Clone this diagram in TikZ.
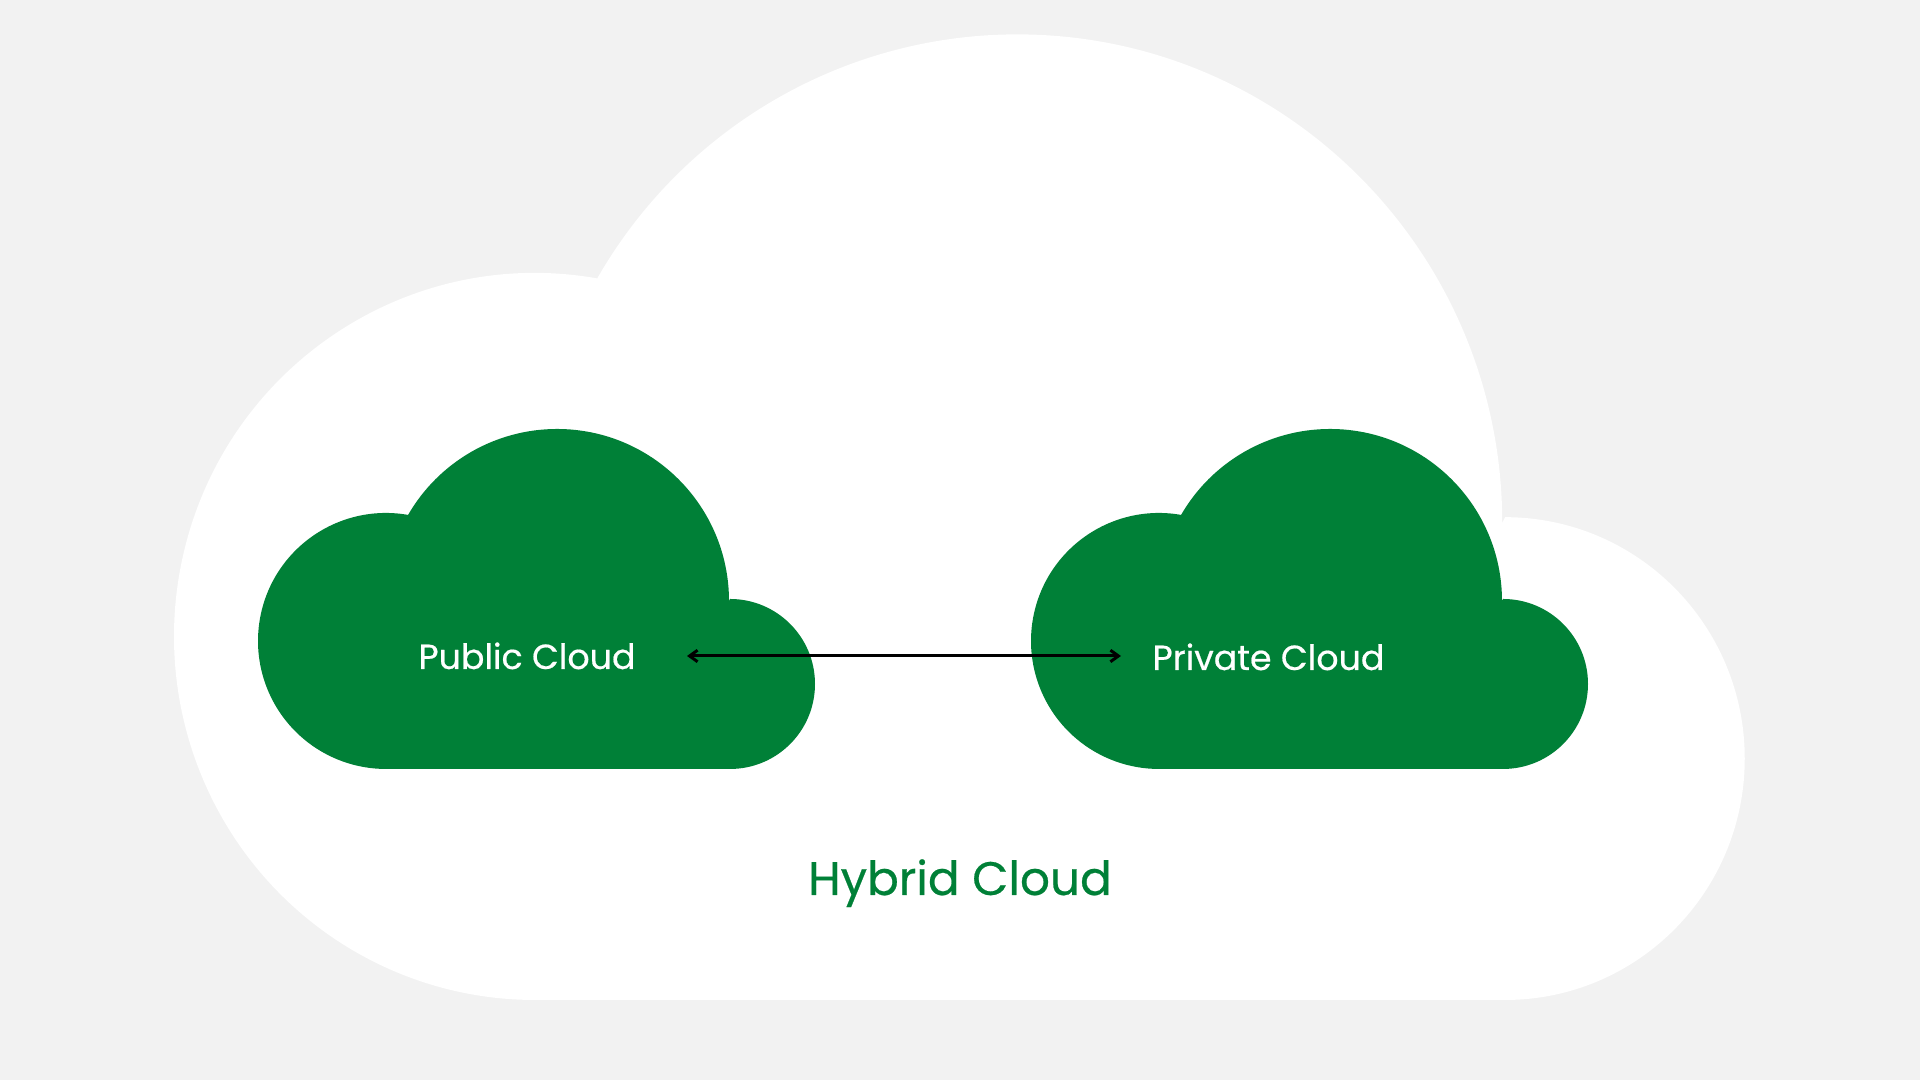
\documentclass[tikz,border=0pt]{standalone}
\usepackage{fontspec}
\setmainfont{Poppins}[FakeBold=0.5]
\usepackage{xcolor}
\usetikzlibrary{arrows.meta}
\definecolor{pagegrey}{HTML}{F2F2F2}
\definecolor{cloudgreen}{HTML}{008037}
\tikzset{
  cloudshape/.pic={
    \fill[#1] (128,0) -- (472,0) arc (-90:90:85) -- ([shift={(299,168)}]0:172) arc (0:150:172) -- ([shift={(128,128)}]80:128) arc (80:270:128) -- cycle;
  },
  innerlabel/.style={text=white,anchor=base,inner sep=0pt,font=\fontsize{9.9}{12}\selectfont},
  outerlabel/.style={text=cloudgreen,anchor=base,inner sep=0pt,font=\fontsize{13.35}{16}\selectfont},
  tiparrow/.style={line width=0.85pt,{Straight Barb[length=0.8mm,width=1.15mm]}-{Straight Barb[length=0.8mm,width=1.15mm]}},
}
\begin{document}
\begin{tikzpicture}[x=0.01cm,y=0.01cm]
            \useasboundingbox (0,0) rectangle (1920,1080);
            \fill[pagegrey] (0,0) rectangle (1920,1080);
            \pic at (174,80) [xscale=2.82,yscale=2.84] {cloudshape=white};
            \pic at (258,311) {cloudshape=cloudgreen};
            \pic at (1031,311) {cloudshape=cloudgreen};
            \node[innerlabel] (publiclabel) at (527,411) {Public Cloud};
            \node[innerlabel] (privatelabel) at (1268.5,410) {Private Cloud};
            \node[outerlabel] (hybridlabel) at (960,185) {Hybrid Cloud};
            \coordinate (publicend) at (687,424);
            \coordinate (privateend) at (1121,424);
            \draw[tiparrow] (publicend) -- (privateend);
        \end{tikzpicture}
\end{document}
